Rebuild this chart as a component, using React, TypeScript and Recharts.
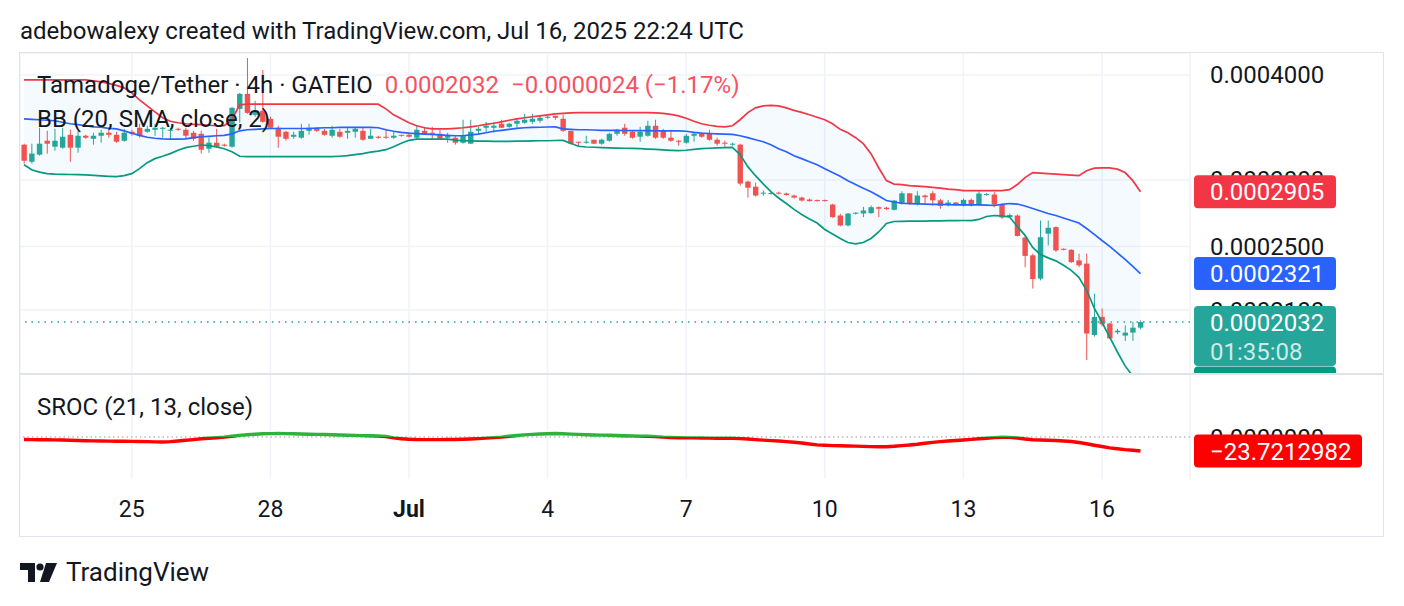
import React from "react";
import {
  ComposedChart,
  Bar,
  Line,
  Area,
  XAxis,
  YAxis,
  CartesianGrid,
  ReferenceLine,
} from "recharts";

// prices are kept in units of 1e-7 USDT
const opens = [
  3304, 3153, 3215, 3340, 3286, 3277, 3395, 3277, 3386, 3358,
  3386, 3414, 3395, 3340, 3423, 3461, 3423, 3442, 3451, 3432,
  3451, 3442, 3414, 3404, 3268, 3322, 3304, 3286, 3645, 3798,
  3586, 3625, 3547, 3461, 3423, 3377, 3368, 3432, 3451, 3432,
  3386, 3423, 3414, 3423, 3432, 3358, 3377, 3377, 3368, 3395,
  3395, 3368, 3432, 3414, 3404, 3368, 3368, 3322, 3313, 3432,
  3461, 3461, 3499, 3470, 3499, 3509, 3518, 3528, 3557, 3576,
  3547, 3432, 3331, 3322, 3349, 3313, 3340, 3404, 3461, 3423,
  3377, 3386, 3480, 3432, 3368, 3340, 3322, 3386, 3404, 3404,
  3349, 3322, 3304, 3304, 2986, 2945, 2890, 2890, 2897, 2890,
  2874, 2858, 2843, 2839, 2839, 2804, 2721, 2648, 2736, 2736,
  2739, 2784, 2780, 2764, 2810, 2892, 2810, 2874, 2892, 2837,
  2802, 2820, 2797, 2840, 2804, 2878, 2882, 2804, 2709, 2721,
  2562, 2440, 2289, 2589, 2636, 2484, 2477, 2406, 2385, 1961,
  2061, 2024, 1976, 1958, 1974, 2001,
];
const highs = [
  3313, 3313, 3461, 3432, 3451, 3461, 3442, 3432, 3395, 3414,
  3442, 3461, 3423, 3451, 3442, 3499, 3480, 3499, 3470, 3461,
  3461, 3461, 3432, 3432, 3368, 3451, 3313, 3665, 3808, 4190,
  3726, 4055, 3567, 3480, 3432, 3423, 3499, 3499, 3461, 3451,
  3480, 3451, 3470, 3470, 3461, 3451, 3386, 3451, 3423, 3395,
  3404, 3480, 3470, 3470, 3442, 3414, 3386, 3538, 3538, 3470,
  3518, 3518, 3538, 3509, 3547, 3596, 3596, 3576, 3576, 3576,
  3586, 3432, 3331, 3386, 3349, 3358, 3414, 3451, 3499, 3432,
  3470, 3528, 3538, 3451, 3442, 3349, 3404, 3423, 3414, 3442,
  3368, 3340, 3322, 3313, 2994, 2978, 2913, 2905, 2905, 2897,
  2882, 2866, 2851, 2843, 2843, 2810, 2734, 2739, 2746, 2786,
  2797, 2790, 2786, 2840, 2908, 2892, 2908, 2882, 2908, 2848,
  2840, 2824, 2851, 2851, 2913, 2894, 2901, 2810, 2736, 2729,
  2577, 2451, 2684, 2684, 2641, 2487, 2480, 2451, 2451, 2197,
  2109, 2026, 1995, 2014, 2033, 2042,
];
const lows = [
  3136, 3136, 3206, 3224, 3250, 3268, 3153, 3232, 3358, 3304,
  3322, 3368, 3322, 3331, 3386, 3368, 3414, 3386, 3368, 3358,
  3432, 3358, 3340, 3224, 3232, 3277, 3286, 3277, 3509, 3596,
  3567, 3509, 3451, 3277, 3340, 3358, 3358, 3395, 3423, 3386,
  3368, 3368, 3358, 3368, 3340, 3358, 3358, 3358, 3358, 3377,
  3368, 3349, 3404, 3349, 3349, 3322, 3304, 3313, 3313, 3404,
  3414, 3414, 3461, 3461, 3461, 3499, 3499, 3509, 3547, 3538,
  3423, 3304, 3286, 3313, 3313, 3304, 3331, 3386, 3386, 3358,
  3331, 3377, 3358, 3358, 3331, 3295, 3313, 3331, 3368, 3340,
  3295, 3286, 3295, 2953, 2858, 2866, 2874, 2882, 2882, 2874,
  2851, 2827, 2827, 2827, 2827, 2704, 2641, 2641, 2729, 2709,
  2734, 2709, 2763, 2759, 2804, 2804, 2797, 2810, 2797, 2772,
  2789, 2801, 2789, 2789, 2797, 2874, 2784, 2696, 2706, 2569,
  2362, 2227, 2278, 2507, 2462, 2473, 2390, 2362, 1831, 1952,
  2009, 1939, 1966, 1929, 1930, 1991,
];
const closes = [
  3162, 3224, 3313, 3313, 3340, 3377, 3277, 3386, 3368, 3386,
  3414, 3395, 3331, 3414, 3404, 3386, 3451, 3461, 3461, 3442,
  3442, 3386, 3358, 3259, 3322, 3286, 3295, 3655, 3798, 3605,
  3625, 3518, 3461, 3377, 3358, 3395, 3432, 3461, 3432, 3395,
  3442, 3377, 3432, 3451, 3349, 3386, 3368, 3368, 3386, 3386,
  3377, 3442, 3404, 3404, 3358, 3386, 3322, 3386, 3423, 3451,
  3480, 3480, 3461, 3499, 3528, 3538, 3547, 3557, 3567, 3557,
  3432, 3313, 3322, 3331, 3313, 3349, 3404, 3442, 3404, 3368,
  3423, 3480, 3368, 3368, 3340, 3331, 3386, 3404, 3377, 3349,
  3313, 3313, 3313, 2970, 2937, 2874, 2897, 2894, 2890, 2878,
  2858, 2835, 2831, 2831, 2831, 2709, 2648, 2736, 2742, 2759,
  2784, 2772, 2769, 2835, 2892, 2810, 2874, 2861, 2837, 2793,
  2820, 2808, 2840, 2797, 2890, 2886, 2804, 2706, 2725, 2573,
  2436, 2286, 2564, 2631, 2473, 2477, 2395, 2374, 1969, 2061,
  2020, 1943, 1984, 1974, 2001, 2032,
];

const bbUpper = [
  3946, 3946, 3946, 3946, 3946, 3946, 3946, 3946, 3946, 3935,
  3924, 3908, 3887, 3861, 3808, 3736, 3675, 3615, 3557, 3523,
  3509, 3499, 3494, 3490, 3485, 3480, 3480, 3538, 3685, 3692,
  3692, 3692, 3692, 3692, 3692, 3692, 3692, 3692, 3692, 3692,
  3692, 3692, 3692, 3692, 3692, 3692, 3692, 3645, 3586, 3547,
  3509, 3480, 3461, 3451, 3451, 3451, 3456, 3461, 3470, 3480,
  3494, 3504, 3518, 3533, 3547, 3557, 3567, 3576, 3586, 3596,
  3600, 3605, 3608, 3608, 3608, 3608, 3608, 3608, 3608, 3608,
  3608, 3608, 3605, 3600, 3591, 3576, 3552, 3523, 3499, 3485,
  3475, 3470, 3480, 3538, 3608, 3655, 3675, 3680, 3675, 3655,
  3630, 3610, 3586, 3562, 3538, 3499, 3446, 3414, 3368, 3313,
  3224, 3102, 2994, 2966, 2962, 2953, 2949, 2945, 2940, 2933,
  2925, 2921, 2913, 2913, 2913, 2913, 2913, 2913, 2921, 2962,
  3019, 3061, 3056, 3052, 3048, 3044, 3040, 3035, 3077, 3098,
  3100, 3100, 3090, 3061, 2994, 2905,
];
const bbBasis = [
  3547, 3542, 3538, 3533, 3528, 3514, 3499, 3490, 3480, 3470,
  3466, 3456, 3451, 3432, 3409, 3390, 3372, 3363, 3358, 3355,
  3355, 3358, 3368, 3377, 3381, 3386, 3390, 3404, 3432, 3442,
  3446, 3451, 3454, 3454, 3454, 3454, 3454, 3454, 3458, 3461,
  3461, 3464, 3464, 3464, 3464, 3464, 3461, 3442, 3428, 3418,
  3411, 3406, 3402, 3399, 3395, 3390, 3386, 3386, 3395, 3401,
  3414, 3428, 3437, 3446, 3456, 3461, 3464, 3466, 3468, 3470,
  3451, 3446, 3442, 3442, 3440, 3437, 3437, 3436, 3435, 3434,
  3434, 3433, 3432, 3432, 3432, 3432, 3428, 3418, 3411, 3407,
  3404, 3402, 3399, 3386, 3368, 3349, 3331, 3304, 3268, 3241,
  3206, 3180, 3153, 3128, 3094, 3061, 3031, 2994, 2962, 2933,
  2905, 2870, 2835, 2824, 2814, 2812, 2810, 2807, 2805, 2805,
  2803, 2802, 2801, 2801, 2801, 2799, 2797, 2805, 2812, 2808,
  2793, 2774, 2755, 2736, 2721, 2703, 2684, 2666, 2626, 2584,
  2541, 2501, 2456, 2413, 2367, 2321,
];
const bbLower = [
  3128, 3085, 3065, 3052, 3048, 3046, 3045, 3044, 3042, 3038,
  3034, 3030, 3027, 3035, 3052, 3094, 3145, 3180, 3201, 3224,
  3254, 3277, 3290, 3301, 3295, 3284, 3268, 3241, 3201, 3197,
  3197, 3197, 3197, 3197, 3197, 3197, 3197, 3197, 3197, 3197,
  3197, 3201, 3206, 3215, 3224, 3237, 3246, 3259, 3286, 3317,
  3344, 3354, 3354, 3354, 3354, 3354, 3346, 3340, 3338, 3336,
  3336, 3334, 3334, 3335, 3336, 3337, 3338, 3340, 3340, 3342,
  3343, 3317, 3290, 3283, 3281, 3278, 3275, 3273, 3272, 3270,
  3268, 3265, 3262, 3257, 3253, 3250, 3254, 3262, 3268, 3272,
  3275, 3277, 3279, 3215, 3111, 3035, 2967, 2905, 2855, 2812,
  2767, 2729, 2695, 2666, 2619, 2587, 2555, 2527, 2518, 2527,
  2555, 2601, 2662, 2677, 2678, 2679, 2680, 2680, 2681, 2682,
  2683, 2683, 2684, 2684, 2692, 2714, 2721, 2718, 2710, 2641,
  2577, 2493, 2446, 2423, 2403, 2374, 2341, 2297, 2217, 2111,
  2031, 1950, 1872, 1802, 1753, 1720,
];

const srocValues = [
  -4.2, -4.4, -4.6, -4.7, -4.9, -5.1, -5.4, -5.9, -6.3, -6.6,
  -6.8, -6.9, -7.1, -7.3, -7.4, -7.6, -7.9, -8.3, -8.5, -7.8,
  -6.8, -5.6, -4.4, -3.0, -2.0, -1.2, -0.3, 1.2, 2.7, 3.9,
  4.7, 5.4, 5.7, 5.9, 5.7, 5.4, 5.1, 4.7, 4.4, 4.1,
  3.7, 3.4, 3.0, 2.7, 2.4, 2.0, 1.7, 0.8, -1.4, -2.9,
  -3.7, -4.2, -4.4, -4.4, -4.4, -4.2, -4.2, -3.9, -3.4, -2.7,
  -1.9, -1.0, -0.2, 1.2, 2.5, 3.5, 4.4, 5.1, 5.6, 5.9,
  5.6, 4.9, 4.4, 3.9, 3.5, 3.2, 2.9, 2.5, 2.2, 1.9,
  1.5, 1.2, 0.7, -0.2, -0.8, -1.2, -1.4, -1.5, -1.7, -1.9,
  -2.0, -2.2, -2.2, -2.7, -3.5, -4.4, -5.2, -6.1, -6.8, -7.8,
  -8.8, -10.1, -11.8, -13.4, -14.0, -14.5, -14.9, -15.2, -15.5, -15.9,
  -16.2, -16.4, -16.4, -15.7, -14.5, -13.5, -12.2, -10.5, -9.0, -7.8,
  -6.8, -5.9, -5.1, -4.1, -3.0, -2.0, -1.0, -0.5, -0.7, -1.7,
  -3.4, -4.7, -5.1, -5.4, -5.9, -6.8, -7.6, -9.3, -11.5, -13.9,
  -16.1, -18.3, -19.9, -21.3, -22.3, -23.7212982,
];

const dateTicks = [14, 32, 50, 68, 86, 104, 122, 140];
const dateLabels = ["25", "28", "Jul", "4", "7", "10", "13", "16"];
const priceTicks = [0.0004, 0.0003, 0.00025, 0.00021];

const UNIT = 1e-7;
const UP = "#26a69a";
const DOWN = "#ef5350";
const FONT = "Roboto, sans-serif";
const X_DOMAIN: [number, number] = [-0.52, 151.43];
const PRICE_DOMAIN: [number, number] = [0.00017624, 0.0004248];
const SROC_DOMAIN: [number, number] = [-71, 104.8];

const candles = opens.map((o, i) => ({
  i,
  open: o * UNIT,
  high: highs[i] * UNIT,
  low: lows[i] * UNIT,
  close: closes[i] * UNIT,
  range: [lows[i] * UNIT, highs[i] * UNIT],
  band: [bbLower[i] * UNIT, bbUpper[i] * UNIT],
  upper: bbUpper[i] * UNIT,
  basis: bbBasis[i] * UNIT,
  lower: bbLower[i] * UNIT,
}));

const srocData = srocValues.map((v, i) => ({ i, sroc: v }));
const srocMax = Math.max(...srocValues);
const srocMin = Math.min(...srocValues);
const zeroOffset = srocMax / (srocMax - srocMin);
const srocLast = srocValues[srocValues.length - 1];

const last = candles[candles.length - 1];

function Candle(props: any) {
  const { x, y, width, height, payload } = props;
  const { open, close, high, low } = payload;
  const top = Math.min(y, y + height);
  const bottom = Math.max(y, y + height);
  const lh = Math.log(high);
  const span = lh - Math.log(low) || 1;
  const py = (v: number) => top + ((bottom - top) * (lh - Math.log(v))) / span;
  const cx = x + width / 2;
  const color = close >= open ? UP : DOWN;
  const bTop = py(Math.max(open, close));
  const bBot = py(Math.min(open, close));
  return (
    <g>
      <line x1={cx} x2={cx} y1={top} y2={bottom} stroke={color} strokeWidth={1} />
      <rect x={cx - 2.7} y={bTop} width={5.4} height={Math.max(1, bBot - bTop)} fill={color} />
    </g>
  );
}

function Tag(props: any) {
  const { viewBox, text, sub, color, w = 142 } = props;
  if (!viewBox) return null;
  const left = viewBox.x + viewBox.width + 4;
  const h = sub ? 60 : 33;
  const top = sub ? viewBox.y - 16 : viewBox.y - 16.5;
  return (
    <g>
      <rect x={left} y={top} width={w} height={h} rx={4} fill={color} />
      <text x={left + 16} y={top + 16.5} dy="0.36em" fill="#ffffff" fontSize={24} fontFamily={FONT}>
        {text}
      </text>
      {sub && (
        <text x={left + 16} y={top + 45} dy="0.36em" fill="rgba(255,255,255,0.78)" fontSize={24} fontFamily={FONT}>
          {sub}
        </text>
      )}
    </g>
  );
}

function DateTick(props: any) {
  const { x, y, payload } = props;
  const k = dateTicks.indexOf(payload.value);
  const label = dateLabels[k] ?? "";
  return (
    <text
      x={x}
      y={y}
      dy="0.71em"
      textAnchor="middle"
      fill="#131722"
      fontSize={23}
      fontFamily={FONT}
      fontWeight={label === "Jul" ? 700 : 400}
    >
      {label}
    </text>
  );
}

const noMargin = { top: 0, right: 0, bottom: 0, left: 0 };
const overlayMargin = { top: 0, right: 194, bottom: 0, left: 0 };

export default function App() {
  return (
    <div
      style={{
        position: "relative",
        width: 1404,
        height: 606,
        margin: -8,
        background: "#ffffff",
        fontFamily: FONT,
        color: "#131722",
        overflow: "hidden",
      }}
    >
      <div style={{ position: "absolute", left: 20, top: 18, fontSize: 24, lineHeight: "26px" }}>
        adebowalexy created with TradingView.com, Jul 16, 2025 22:24 UTC
      </div>

      <div
        style={{
          position: "absolute",
          left: 19,
          top: 52,
          width: 1365,
          height: 485,
          border: "1px solid #e0e3eb",
          boxSizing: "border-box",
        }}
      />

      {/* price pane */}
      <div style={{ position: "absolute", left: 20, top: 53 }}>
        <ComposedChart width={1364} height={321} data={candles} margin={noMargin}>
          <CartesianGrid stroke="#f0f3fa" strokeWidth={1.5} />
          <XAxis type="number" dataKey="i" domain={X_DOMAIN} ticks={dateTicks} hide />
          <YAxis
            orientation="right"
            scale="log"
            domain={PRICE_DOMAIN}
            allowDataOverflow
            ticks={priceTicks}
            tickFormatter={(v: number) => v.toFixed(7)}
            width={194}
            axisLine={false}
            tickLine={false}
            tickSize={0}
            tickMargin={20}
            tick={{ fill: "#131722", fontSize: 24, fontFamily: FONT }}
          />
          <Area dataKey="band" stroke="none" fill="rgba(33,150,243,0.07)" isAnimationActive={false} />
          <Line dataKey="upper" stroke="#f23645" strokeWidth={1.7} dot={false} isAnimationActive={false} />
          <Line dataKey="basis" stroke="#2962ff" strokeWidth={1.7} dot={false} isAnimationActive={false} />
          <Line dataKey="lower" stroke="#089981" strokeWidth={1.7} dot={false} isAnimationActive={false} />
          <Bar dataKey="range" barSize={6} shape={<Candle />} isAnimationActive={false} />
          <ReferenceLine y={last.close} stroke={UP} strokeDasharray="1.5 5" strokeWidth={1.5} />
        </ComposedChart>
      </div>

      {/* price tags, drawn above the axis labels */}
      <div style={{ position: "absolute", left: 20, top: 53 }}>
        <ComposedChart width={1364} height={321} data={candles} margin={overlayMargin}>
          <XAxis type="number" dataKey="i" domain={X_DOMAIN} allowDataOverflow hide />
          <YAxis scale="log" domain={PRICE_DOMAIN} allowDataOverflow hide />
          <ReferenceLine
            y={last.lower}
            stroke="none"
            ifOverflow="visible"
            label={<Tag text={last.lower.toFixed(7)} color="#089981" />}
          />
          <ReferenceLine
            y={last.close}
            stroke="none"
            label={<Tag text={last.close.toFixed(7)} sub="01:35:08" color="#26a69a" />}
          />
          <ReferenceLine y={last.basis} stroke="none" label={<Tag text={last.basis.toFixed(7)} color="#2962ff" />} />
          <ReferenceLine y={last.upper} stroke="none" label={<Tag text={last.upper.toFixed(7)} color="#f23645" />} />
        </ComposedChart>
      </div>

      <div style={{ position: "absolute", left: 20, top: 373, width: 1364, height: 2, background: "#e0e3eb" }} />

      {/* SROC pane */}
      <div style={{ position: "absolute", left: 20, top: 375 }}>
        <ComposedChart width={1364} height={161} data={srocData} margin={noMargin}>
          <defs>
            <linearGradient id="srocStroke" x1="0" y1="0" x2="0" y2="1">
              <stop offset={zeroOffset} stopColor="#2db33a" />
              <stop offset={zeroOffset} stopColor="#ff0000" />
            </linearGradient>
          </defs>
          <CartesianGrid stroke="#f0f3fa" strokeWidth={1.5} horizontal={false} />
          <XAxis
            type="number"
            dataKey="i"
            domain={X_DOMAIN}
            ticks={dateTicks}
            height={57}
            axisLine={false}
            tickLine={false}
            tickSize={0}
            tickMargin={22}
            tick={<DateTick />}
          />
          <YAxis
            orientation="right"
            domain={SROC_DOMAIN}
            allowDataOverflow
            ticks={[0]}
            tickFormatter={(v: number) => v.toFixed(7)}
            width={194}
            axisLine={false}
            tickLine={false}
            tickSize={0}
            tickMargin={20}
            tick={{ fill: "#131722", fontSize: 24, fontFamily: FONT }}
          />
          <ReferenceLine y={0} stroke="#9598a1" strokeDasharray="1.5 3" strokeWidth={1.2} />
          <Line
            dataKey="sroc"
            stroke="url(#srocStroke)"
            strokeWidth={3.4}
            dot={false}
            isAnimationActive={false}
          />
        </ComposedChart>
      </div>

      <div style={{ position: "absolute", left: 20, top: 375 }}>
        <ComposedChart width={1364} height={161} data={srocData} margin={{ top: 0, right: 194, bottom: 57, left: 0 }}>
          <XAxis type="number" dataKey="i" domain={X_DOMAIN} allowDataOverflow hide />
          <YAxis type="number" domain={SROC_DOMAIN} allowDataOverflow hide />
          <ReferenceLine
            y={srocLast}
            stroke="none"
            ifOverflow="visible"
            label={<Tag text={"\u2212" + Math.abs(srocLast).toFixed(7)} color="#ff0000" w={168} />}
          />
        </ComposedChart>
      </div>

      <div style={{ position: "absolute", left: 37, top: 72, fontSize: 24, lineHeight: "26px", whiteSpace: "pre" }}>
        Tamadoge/Tether · 4h · GATEIO{"  "}
        <span style={{ color: "#f7525f" }}>0.0002032{"  "}−0.0000024 (−1.17%)</span>
      </div>
      <div style={{ position: "absolute", left: 37, top: 106, fontSize: 24, lineHeight: "26px" }}>
        BB (20, SMA, close, 2)
      </div>
      <div style={{ position: "absolute", left: 37, top: 394, fontSize: 24, lineHeight: "26px" }}>
        SROC (21, 13, close)
      </div>

      <svg style={{ position: "absolute", left: 20, top: 562 }} width={40} height={22}>
        <path d="M0 1 H15 V20 H8 V8 H0 Z" fill="#131722" />
        <circle cx={20} cy={5} r={3.6} fill="#131722" />
        <path d="M26 1 H37 L29 20 H20 Z" fill="#131722" />
      </svg>
      <div style={{ position: "absolute", left: 66, top: 558, fontSize: 26, lineHeight: "28px" }}>
        TradingView
      </div>
    </div>
  );
}
